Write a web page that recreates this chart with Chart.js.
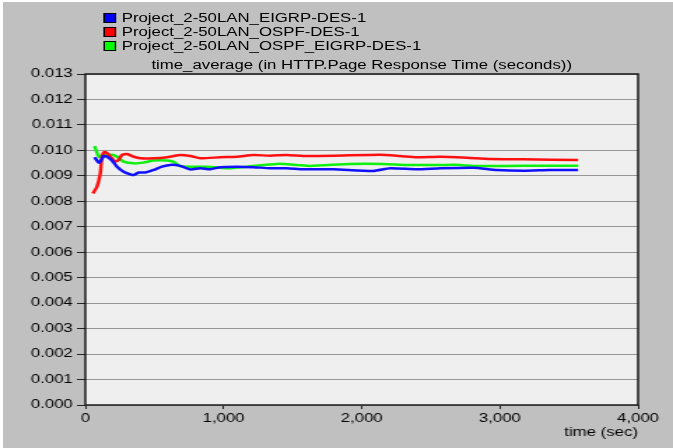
<!DOCTYPE html>
<html>
<head>
<meta charset="utf-8">
<script src="https://cdn.jsdelivr.net/npm/chart.js@4"></script>
<style>
  body { margin: 0; background: #fff; width: 673px; height: 448px; overflow: hidden; }
  #frame { position: absolute; left: 3px; top: 2px; width: 670px; height: 446px; background: #c0c0c0; }
  /* the original screenshot is stretched sideways, so the whole chart is drawn narrow and scaled */
  #wrap { position: absolute; left: 0; top: 0; width: 481px; height: 448px;
          transform: scaleX(1.3992); transform-origin: 0 0; font-family: "Liberation Sans", Arial, sans-serif; }
  #chart { position: absolute; left: 0; top: 0; }
  .leg { position: absolute; left: 74px; font-size: 12px; line-height: 14px; color: #000; white-space: nowrap; }
  .leg span { display: inline-block; width: 7px; height: 8px; border: 1px solid #000; margin-right: 4px; vertical-align: -1px; }
  #title { position: absolute; left: 61px; width: 395px; top: 58px; text-align: center; font-size: 12px; line-height: 14px; white-space: nowrap; }
</style>
</head>
<body>
<div id="frame"></div>
<div id="wrap">
  <div class="leg" style="top:11px"><span style="background:#0000ff"></span>Project_2-50LAN_EIGRP-DES-1</div>
  <div class="leg" style="top:25px"><span style="background:#ff0000"></span>Project_2-50LAN_OSPF-DES-1</div>
  <div class="leg" style="top:39px"><span style="background:#00ff00"></span>Project_2-50LAN_OSPF_EIGRP-DES-1</div>
  <div id="title">time_average (in HTTP.Page Response Time (seconds))</div>
  <canvas id="chart" width="481" height="448"></canvas>
</div>
<script>
const eigrpTime = [67, 97, 113, 133, 157, 193, 229, 277, 325, 350, 386, 434, 494, 554, 615, 687, 760, 832, 904, 976,
  1097, 1217, 1338, 1458, 1579, 1795, 2083, 2206, 2399, 2568, 2808, 2978, 3170, 3363, 3566];
const eigrpValues = [0.00973, 0.00952, 0.0096, 0.00978, 0.00975, 0.0096, 0.00936, 0.00916, 0.00906, 0.00903, 0.00913,
  0.00913, 0.00923, 0.00936, 0.00943, 0.00939, 0.00925, 0.0093, 0.00926, 0.00934, 0.00936, 0.00934, 0.0093, 0.0093,
  0.00926, 0.00926, 0.00919, 0.0093, 0.00926, 0.0093, 0.00932, 0.00923, 0.0092, 0.00923, 0.00923];

const ospfTime = [55, 84, 108, 120, 137, 157, 193, 217, 241, 265, 301, 350, 398, 494, 591, 639, 687, 760, 832, 976,
  1097, 1217, 1338, 1458, 1579, 1795, 2134, 2278, 2399, 2568, 2760, 2929, 3170, 3566];
const ospfValues = [0.00831, 0.00857, 0.0091, 0.00975, 0.00994, 0.00989, 0.00969, 0.00956, 0.00962, 0.00982, 0.00986,
  0.00975, 0.00969, 0.00969, 0.00973, 0.00978, 0.00982, 0.00978, 0.00969, 0.00973, 0.00975, 0.00982, 0.00979, 0.00982,
  0.00978, 0.00979, 0.00983, 0.00978, 0.00973, 0.00975, 0.00971, 0.00966, 0.00965, 0.00962];

const mixedTime = [67, 97, 120, 157, 205, 229, 277, 350, 420, 492, 590, 640, 687, 760, 880, 1025, 1170, 1387, 1530,
  1627, 1917, 2155, 2327, 2568, 2712, 2808, 3050, 3291, 3568];
const mixedValues = [0.01017, 0.00975, 0.0098, 0.00982, 0.00982, 0.00975, 0.00956, 0.00949, 0.00952, 0.0096, 0.0096,
  0.00955, 0.00938, 0.00936, 0.00936, 0.0093, 0.00936, 0.00947, 0.00943, 0.00939, 0.00947, 0.00947, 0.00943, 0.00943,
  0.00943, 0.00939, 0.00939, 0.0094, 0.0094];

const xTicks = [0, 1000, 2000, 3000, 4000];

const toPoints = (times, values) => times.map((t, i) => ({ x: t, y: values[i] }));

const font = { family: '"Liberation Sans", Arial, sans-serif', size: 12 };

// plot background and frame
const plotFrame = {
  id: 'plotFrame',
  beforeDraw(chart) {
    const { ctx, chartArea: a } = chart;
    ctx.save();
    ctx.fillStyle = '#efefef';
    ctx.fillRect(a.left, a.top, a.right - a.left, a.bottom - a.top);
    ctx.restore();
  },
  afterDraw(chart) {
    const { ctx, chartArea: a } = chart;
    ctx.save();
    ctx.strokeStyle = '#1a1a1a';
    ctx.lineWidth = 1.5;
    ctx.strokeRect(a.left, a.top, a.right - a.left, a.bottom - a.top);
    ctx.restore();
  }
};

new Chart(document.getElementById('chart'), {
  type: 'line',
  data: {
    datasets: [
      { label: 'Project_2-50LAN_EIGRP-DES-1', data: toPoints(eigrpTime, eigrpValues), borderColor: '#1010ff' },
      { label: 'Project_2-50LAN_OSPF-DES-1', data: toPoints(ospfTime, ospfValues), borderColor: '#ff1010' },
      { label: 'Project_2-50LAN_OSPF_EIGRP-DES-1', data: toPoints(mixedTime, mixedValues), borderColor: '#10f010' },
    ],
  },
  options: {
    responsive: false,
    animation: false,
    layout: { padding: { left: 0, top: 74, right: 25, bottom: 0 } },
    elements: {
      point: { radius: 0 },
      line: { borderWidth: 2.5, tension: 0.2 },
    },
    plugins: { legend: { display: false }, tooltip: { enabled: false } },
    scales: {
      x: {
        type: 'linear',
        min: 0,
        max: 4000,
        afterFit: scale => { scale.height = 43; },
        afterBuildTicks: scale => { scale.ticks = xTicks.map(v => ({ value: v })); },
        ticks: { font, color: '#000', padding: 2, maxRotation: 0, callback: v => v.toLocaleString('en-US') },
        grid: { drawOnChartArea: false, tickLength: 4, tickColor: '#222' },
        border: { display: false },
        title: { display: true, text: 'time (sec)', align: 'end', font, color: '#000', padding: { top: 0, bottom: 8 } },
      },
      y: {
        min: 0,
        max: 0.013,
        afterFit: scale => { scale.width = 61; },
        ticks: { stepSize: 0.001, font, color: '#000', padding: 3, callback: v => v.toFixed(3) },
        grid: { color: '#969696', tickLength: 6, tickColor: '#222' },
        border: { display: false },
      },
    },
  },
  plugins: [plotFrame],
});
</script>
</body>
</html>
